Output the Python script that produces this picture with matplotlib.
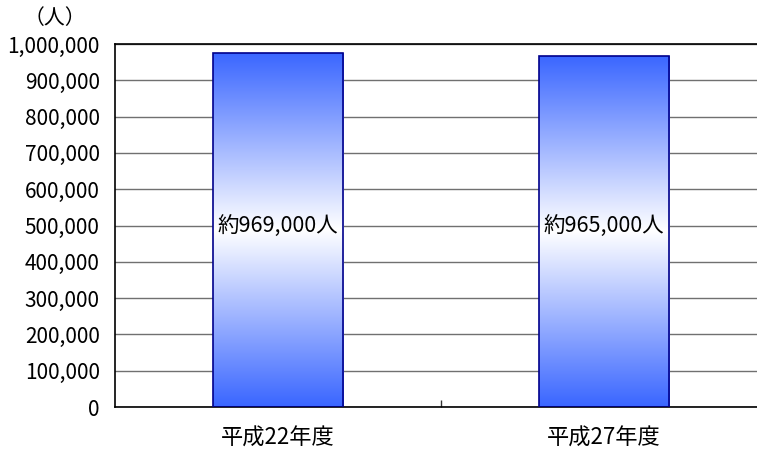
import matplotlib
matplotlib.use("Agg")
import matplotlib.pyplot as plt
import numpy as np
from matplotlib.colors import LinearSegmentedColormap

plt.rcParams['font.family'] = ['Noto Sans CJK JP', 'DejaVu Sans']

categories = ['平成22年度', '平成27年度']
values = [976000, 967000]
bar_labels = ['約969,000人', '約965,000人']
yticks = [0, 100000, 200000, 300000, 400000, 500000, 600000, 700000, 800000, 900000, 1000000]
ytick_labels = ['0', '100,000', '200,000', '300,000', '400,000', '500,000',
                '600,000', '700,000', '800,000', '900,000', '1,000,000']

fig = plt.figure(figsize=(7.57, 4.49), dpi=100)
ax = fig.add_axes([115/757, 1-407/449, 652/757, 363/449])

x = np.arange(len(categories))
bars = ax.bar(x, values, width=0.4, color='none', edgecolor='#00008b', linewidth=1.2, zorder=3)

cmap = LinearSegmentedColormap.from_list('g', ['#3a66ff', '#ffffff', '#3a66ff'])
grad = np.linspace(0, 1, 256).reshape(-1, 1)
for b in bars:
    x0, w, h = b.get_x(), b.get_width(), b.get_height()
    im = ax.imshow(grad, cmap=cmap, aspect='auto', extent=[x0, x0 + w, 0, h],
                   origin='lower', zorder=2)
    im.set_clip_path(b)

for xi, v, lab in zip(x, values, bar_labels):
    ax.text(xi, 500000, lab, ha='center', va='center', fontsize=15.5, zorder=4)

ax.set_xlim(-0.5, 1.5)
ax.set_ylim(0, 1000000)
ax.set_yticks(yticks)
ax.set_yticklabels(ytick_labels, fontsize=15)
ax.set_xticks([0.5])
ax.set_xticklabels([''])
ax.tick_params(axis='x', direction='in', length=5, width=1, color='#333333')
ax.tick_params(axis='y', length=0, pad=11)
for xi, c in zip(x, categories):
    ax.text(xi, -0.085, c, transform=ax.get_xaxis_transform(), ha='center', va='center', fontsize=16)

ax.yaxis.grid(True, color='#707070', linewidth=1)
ax.set_axisbelow(True)
for s in ['left', 'bottom', 'top']:
    ax.spines[s].set_color('black')
    ax.spines[s].set_linewidth(1.2)
ax.spines['right'].set_visible(False)

fig.text(55/757, 1-18/449, '（人）', ha='center', va='center', fontsize=15)

fig.savefig('out.png', dpi=100)
